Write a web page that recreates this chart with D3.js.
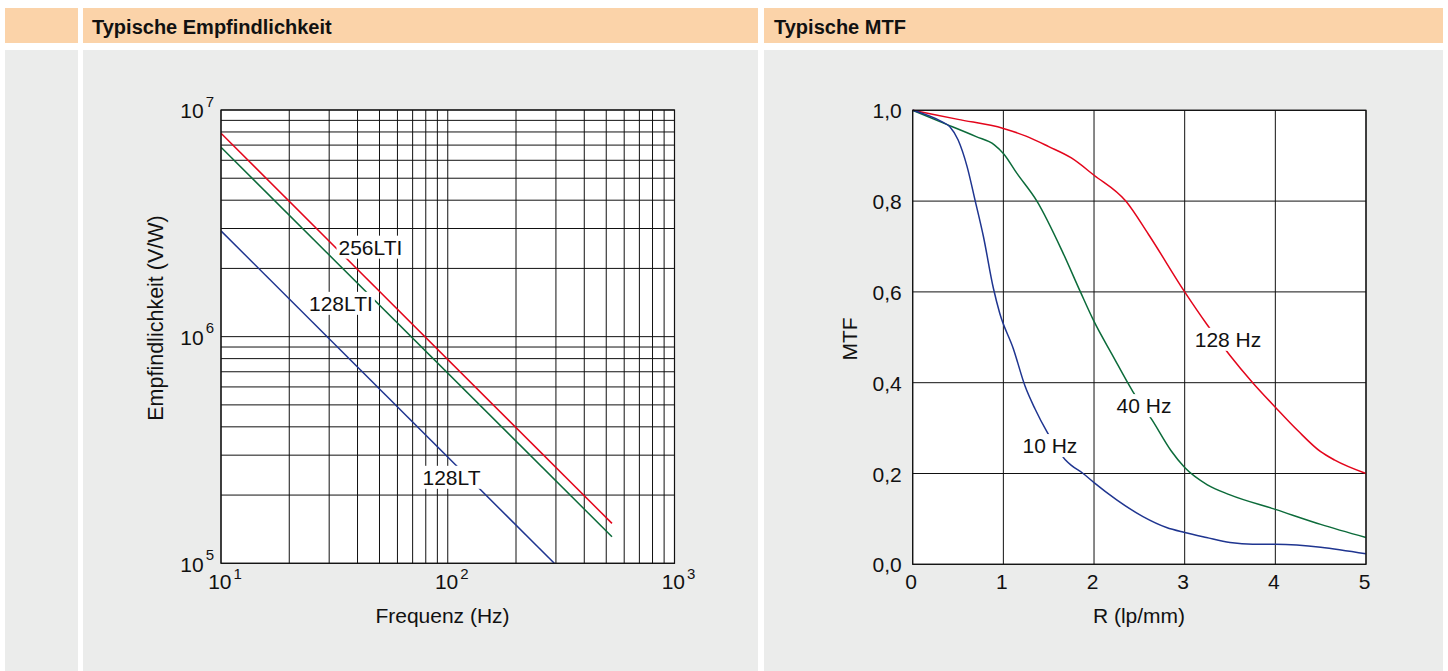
<!DOCTYPE html>
<html>
<head>
<meta charset="utf-8">
<script src="https://cdn.jsdelivr.net/npm/d3@7"></script>
<style>
  body { margin: 0; background: #fff; }
  svg { display: block; }
  text { font-family: "Liberation Sans", Arial, Helvetica, sans-serif; fill: #111; }
</style>
</head>
<body>
<svg id="chart" width="1448" height="671"></svg>
<script>
// ---- data: sensitivity (V/W) vs frequency (Hz), log-log ----
const sensNames = ['256LTI', '128LTI', '128LT'];
const sens256LTI = [[10, 7.9e6], [530, 1.5e5]];
const sens128LTI = [[10, 6.85e6], [530, 1.31e5]];
const sens128LT = [[10, 2.93e6], [295, 1.0e5]];
const sensColors = ['#e3051b', '#0c6b3a', '#1f3590'];
const sensLabelPos = [[45.6, 2.3e6], [33.8, 1.3e6], [103.9, 2.22e5]];
const freqLabelTicks = [10, 100, 1000];
const sensLabelTicks = [1e5, 1e6, 1e7];

// ---- data: MTF vs R (lp/mm) ----
const mtfNames = ['128 Hz', '40 Hz', '10 Hz'];
const r128 = [0, 0.5, 1, 1.25, 1.5, 1.75, 2, 2.35, 2.6, 3, 3.25, 3.5, 3.75, 4, 4.25, 4.5, 4.65, 5];
const m128 = [1.0, 0.98, 0.96, 0.943, 0.92, 0.895, 0.857, 0.8, 0.727, 0.6, 0.527, 0.46, 0.4, 0.346, 0.294, 0.248, 0.23, 0.2];
const r40 = [0, 0.3, 0.7, 0.9, 1.0, 1.15, 1.37, 1.66, 1.85, 2.0, 2.2, 2.43, 2.64, 2.85, 3.0, 3.25, 3.5, 4, 4.5, 5];
const m40 = [1.0, 0.975, 0.942, 0.924, 0.905, 0.861, 0.8, 0.685, 0.6, 0.535, 0.462, 0.38, 0.318, 0.25, 0.213, 0.175, 0.153, 0.121, 0.088, 0.059];
const r10 = [0, 0.32, 0.41, 0.5, 0.6, 0.69, 0.78, 0.89, 0.96, 1.11, 1.24, 1.35, 1.48, 1.68, 1.75, 1.88, 2.0, 2.25, 2.54, 2.8, 3.0, 3.24, 3.5, 3.75, 4.0, 5.0];
const m10 = [1.0, 0.975, 0.964, 0.935, 0.876, 0.8, 0.722, 0.608, 0.553, 0.475, 0.392, 0.342, 0.292, 0.231, 0.218, 0.2, 0.18, 0.142, 0.105, 0.081, 0.07, 0.059, 0.048, 0.044, 0.044, 0.023];
const mtfColors = ['#e3051b', '#0c6b3a', '#1f3590'];
const mtfLabelPos = [[3.478, 0.479], [2.551, 0.333], [1.514, 0.245]];
const rTicks = [0, 1, 2, 3, 4, 5];
const mtfTicks = [0, 0.2, 0.4, 0.6, 0.8, 1.0];

const titles = ['Typische Empfindlichkeit', 'Typische MTF'];

const svg = d3.select('#chart');
const orange = '#fbd3a9', grey = '#ebeceb';

// panel backgrounds
const cols = [[5, 73], [83, 675], [764, 679]];
cols.forEach(([x, w]) => {
  svg.append('rect').attr('x', x).attr('y', 8).attr('width', w).attr('height', 35).attr('fill', orange);
  svg.append('rect').attr('x', x).attr('y', 50).attr('width', w).attr('height', 621).attr('fill', grey);
});
svg.append('text').attr('x', 92).attr('y', 33.5).attr('font-size', 20).attr('font-weight', 'bold').text(titles[0]);
svg.append('text').attr('x', 774).attr('y', 33.5).attr('font-size', 20).attr('font-weight', 'bold').text(titles[1]);

// helper: white box behind a label
function boxLabel(g, x, y, txt) {
  const t = g.append('text').attr('x', x).attr('y', y).attr('text-anchor', 'middle')
    .attr('font-size', 21).text(txt);
  const b = t.node().getBBox();
  g.insert('rect', () => t.node())
    .attr('x', b.x - 2).attr('y', b.y).attr('width', b.width + 4).attr('height', b.height)
    .attr('fill', '#fff');
}

// ================= left chart =================
const x1 = d3.scaleLog().domain([10, 1000]).range([221, 674.5]);
const y1 = d3.scaleLog().domain([1e5, 1e7]).range([563.3, 110]);
const g1 = svg.append('g');

g1.append('rect').attr('x', x1.range()[0]).attr('y', y1.range()[1])
  .attr('width', x1.range()[1] - x1.range()[0]).attr('height', y1.range()[0] - y1.range()[1])
  .attr('fill', '#fff');

g1.selectAll('.vx').data(x1.ticks()).enter().append('line')
  .attr('x1', d => x1(d)).attr('x2', d => x1(d))
  .attr('y1', y1.range()[0]).attr('y2', y1.range()[1])
  .attr('stroke', '#111').attr('stroke-width', 1);
g1.selectAll('.hy').data(y1.ticks()).enter().append('line')
  .attr('y1', d => y1(d)).attr('y2', d => y1(d))
  .attr('x1', x1.range()[0]).attr('x2', x1.range()[1])
  .attr('stroke', '#111').attr('stroke-width', 1);

g1.append('clipPath').attr('id', 'clip1').append('rect')
  .attr('x', x1.range()[0]).attr('y', y1.range()[1])
  .attr('width', x1.range()[1] - x1.range()[0]).attr('height', y1.range()[0] - y1.range()[1]);

const line1 = d3.line().x(d => x1(d[0])).y(d => y1(d[1]));
[sens256LTI, sens128LTI, sens128LT].forEach((s, i) => {
  g1.append('path').datum(s).attr('d', line1).attr('fill', 'none')
    .attr('stroke', sensColors[i]).attr('stroke-width', 1.5).attr('clip-path', 'url(#clip1)');
});

g1.append('rect').attr('x', x1.range()[0]).attr('y', y1.range()[1])
  .attr('width', x1.range()[1] - x1.range()[0]).attr('height', y1.range()[0] - y1.range()[1])
  .attr('fill', 'none').attr('stroke', '#111').attr('stroke-width', 1.2);

sensNames.forEach((n, i) => boxLabel(g1, x1(sensLabelPos[i][0]), y1(sensLabelPos[i][1]), n));

// tick labels with superscript exponents
freqLabelTicks.forEach(v => {
  const t = g1.append('text').attr('x', x1(v) + 4).attr('y', y1.range()[0] + 25.7)
    .attr('text-anchor', 'middle').attr('font-size', 21).text('10');
  t.append('tspan').attr('dx', 2).attr('dy', -10).attr('font-size', 15).text(Math.round(Math.log10(v)));
});
sensLabelTicks.forEach(v => {
  const t = g1.append('text').attr('x', x1.range()[0] - 7).attr('y', y1(v) + 8.3)
    .attr('text-anchor', 'end').attr('font-size', 21).text('10');
  t.append('tspan').attr('dx', 2).attr('dy', -11.5).attr('font-size', 15).text(Math.round(Math.log10(v)));
});

g1.append('text').attr('x', 442.5).attr('y', 622.7).attr('text-anchor', 'middle')
  .attr('font-size', 21).text('Frequenz (Hz)');
g1.append('text').attr('transform', 'translate(163,318) rotate(-90)').attr('text-anchor', 'middle')
  .attr('font-size', 21.5).text('Empfindlichkeit (V/W)');

// ================= right chart =================
const x2 = d3.scaleLinear().domain([0, 5]).range([912.7, 1366]);
const y2 = d3.scaleLinear().domain([0, 1]).range([564.3, 110.3]);
const g2 = svg.append('g');

g2.append('rect').attr('x', x2.range()[0]).attr('y', y2.range()[1])
  .attr('width', x2.range()[1] - x2.range()[0]).attr('height', y2.range()[0] - y2.range()[1])
  .attr('fill', '#fff');

g2.selectAll('.vx').data(rTicks).enter().append('line')
  .attr('x1', d => x2(d)).attr('x2', d => x2(d))
  .attr('y1', y2.range()[0]).attr('y2', y2.range()[1])
  .attr('stroke', '#111').attr('stroke-width', 1);
g2.selectAll('.hy').data(mtfTicks).enter().append('line')
  .attr('y1', d => y2(d)).attr('y2', d => y2(d))
  .attr('x1', x2.range()[0]).attr('x2', x2.range()[1])
  .attr('stroke', '#111').attr('stroke-width', 1);

const line2 = d3.line().x(d => x2(d[0])).y(d => y2(d[1])).curve(d3.curveMonotoneX);
[[r128, m128], [r40, m40], [r10, m10]].forEach(([rs, ms], i) => {
  g2.append('path').datum(rs.map((r, j) => [r, ms[j]])).attr('d', line2).attr('fill', 'none')
    .attr('stroke', mtfColors[i]).attr('stroke-width', 1.5);
});

g2.append('rect').attr('x', x2.range()[0]).attr('y', y2.range()[1])
  .attr('width', x2.range()[1] - x2.range()[0]).attr('height', y2.range()[0] - y2.range()[1])
  .attr('fill', 'none').attr('stroke', '#111').attr('stroke-width', 1.2);

mtfNames.forEach((n, i) => boxLabel(g2, x2(mtfLabelPos[i][0]), y2(mtfLabelPos[i][1]), n));

const fmt = d => d.toFixed(1).replace('.', ',');
g2.selectAll('.yl').data(mtfTicks).enter().append('text')
  .attr('x', x2.range()[0] - 11).attr('y', d => y2(d) + 8)
  .attr('text-anchor', 'end').attr('font-size', 21).text(fmt);
g2.selectAll('.xl').data(rTicks).enter().append('text')
  .attr('x', d => x2(d) - 1.5).attr('y', y2.range()[0] + 25)
  .attr('text-anchor', 'middle').attr('font-size', 21).text(d => d);

g2.append('text').attr('x', 1139).attr('y', 623).attr('text-anchor', 'middle')
  .attr('font-size', 21).text('R (lp/mm)');
g2.append('text').attr('transform', 'translate(857,339) rotate(-90)').attr('text-anchor', 'middle')
  .attr('font-size', 21).text('MTF');
</script>
</body>
</html>
